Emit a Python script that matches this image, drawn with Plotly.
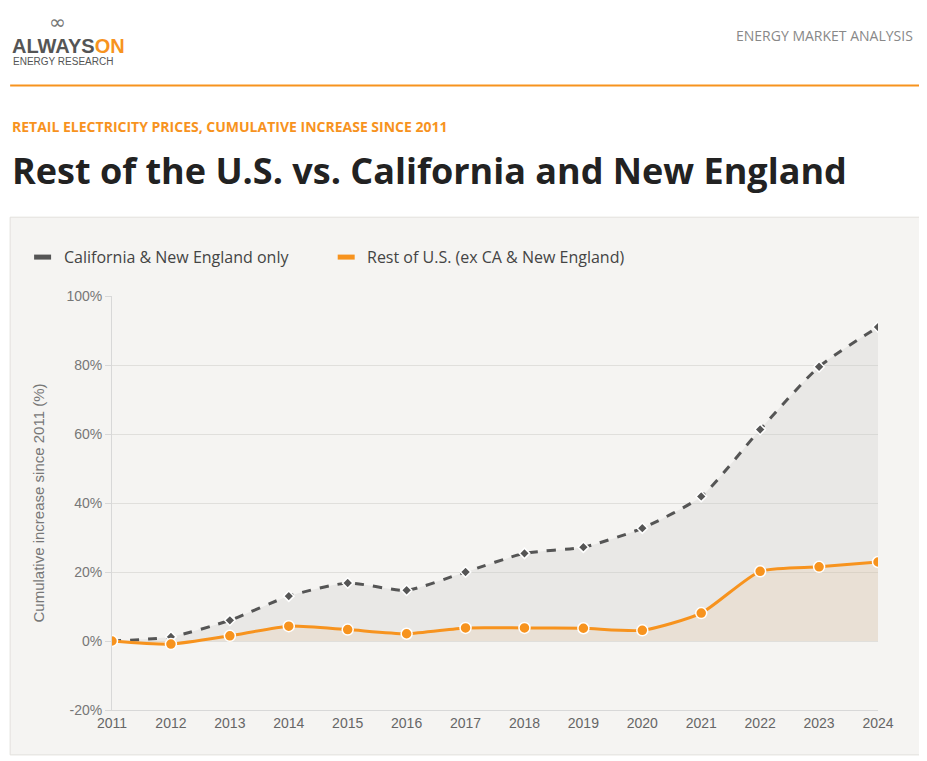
import plotly.graph_objects as go

years = list(range(2011, 2025))
ca_ne = [0, 1.2, 6.0, 13.0, 16.8, 14.7, 20.0, 25.4, 27.2, 32.7, 41.9, 61.3, 79.5, 91.0]
rest_us = [0, -0.9, 1.5, 4.3, 3.3, 2.1, 3.8, 3.8, 3.7, 3.1, 8.1, 20.2, 21.5, 22.9]
y_ticks = [-20, 0, 20, 40, 60, 80, 100]
series_names = ["California & New England only", "Rest of U.S. (ex CA & New England)"]

ORANGE = "#f7931e"
DARK = "#555555"
FONT = "Open Sans, Lato, sans-serif"
AXFONT = "Liberation Sans, Arial, sans-serif"


def px2paper(px_x, px_y):
    # reference pixel -> paper coords (plot area spans x 111..878, y 295..710)
    return (px_x - 111) / 767, (710 - px_y) / 415


fig = go.Figure()
fig.add_trace(go.Scatter(
    x=years, y=ca_ne, name=series_names[0],
    mode="lines+markers", line=dict(color=DARK, width=3, dash="dash", shape="spline", smoothing=0.6),
    marker=dict(symbol="diamond", size=8, color=DARK, line=dict(color="white", width=1.5)),
    fill="tozeroy", fillcolor="rgba(200,200,200,0.28)"))
fig.add_trace(go.Scatter(
    x=years, y=rest_us, name=series_names[1],
    mode="lines+markers", line=dict(color=ORANGE, width=3, shape="spline", smoothing=0.6),
    marker=dict(symbol="circle", size=11, color=ORANGE, line=dict(color="white", width=1.5)),
    fill="tozeroy", fillcolor="rgba(240,170,90,0.12)"))

cx0, cy1 = px2paper(9, 216)
cx1, cy0 = px2paper(924, 755)
lx0, ly = px2paper(9, 84)
lx1, _ = px2paper(924, 84)
shapes = [
    dict(type="rect", xref="paper", yref="paper", x0=cx0, x1=cx1, y0=cy0, y1=cy1,
         line=dict(color="#e2e0dc", width=1), fillcolor="#f5f4f2", layer="below"),
    dict(type="line", xref="paper", yref="paper", x0=lx0, x1=lx1, y0=ly, y1=ly,
         line=dict(color=ORANGE, width=2)),
]
# custom legend swatches
for (sx0, sx1), col in zip([(33, 50), (337, 354)], [DARK, ORANGE]):
    a0, b = px2paper(sx0, 256)
    a1, _ = px2paper(sx1, 256)
    shapes.append(dict(type="line", xref="paper", yref="paper", x0=a0, x1=a1, y0=b, y1=b,
                       line=dict(color=col, width=5)))

annotations = [
    dict(text="<b>ALWAYS<span style='color:#f7931e'>ON</span></b>", x=9, y=44,
         font=dict(size=20, color="#555555", family=AXFONT)),
    dict(text="ENERGY RESEARCH", x=10, y=60, font=dict(size=10, color="#555555", family=AXFONT)),
    dict(text="∞", x=46, y=20, font=dict(size=20, color="#777777", family="DejaVu Sans")),
    dict(text="ENERGY MARKET ANALYSIS", x=915, y=34, xanchor="right",
         font=dict(size=14, color="#888888", family=FONT)),
    dict(text="<b>RETAIL ELECTRICITY PRICES, CUMULATIVE INCREASE SINCE 2011</b>", x=9, y=125,
         font=dict(size=14, color=ORANGE, family=FONT)),
    dict(text="<b>Rest of the U.S. vs. California and New England</b>", x=9, y=169,
         font=dict(size=36, color="#222222", family=FONT)),
    dict(text=series_names[0], x=61, y=256, font=dict(size=16, color="#444444", family=FONT)),
    dict(text=series_names[1], x=364, y=256, font=dict(size=16, color="#444444", family=FONT)),
]
for a in annotations:
    ax, ay = px2paper(a.pop("x"), a.pop("y"))
    a.setdefault("xanchor", "left")
    a.update(xref="paper", yref="paper", showarrow=False, yanchor="middle", x=ax, y=ay)

fig.update_layout(
    width=919, height=753,
    margin=dict(l=104, r=49, t=288, b=51, autoexpand=False),
    paper_bgcolor="white", plot_bgcolor="#f5f4f2",
    font=dict(family=AXFONT, color="#666666"),
    shapes=shapes, annotations=annotations,
    showlegend=False,
    xaxis=dict(range=[2011, 2024], tickvals=years, showgrid=False, zeroline=False,
               showline=True, linecolor="#d8d8d8", tickfont=dict(size=14, color="#666666"),
               ticks="", fixedrange=True),
    yaxis=dict(range=[-20, 100], tickvals=y_ticks, ticktext=[f"{v}%" for v in y_ticks],
               gridcolor="#e0dfdc", zeroline=False, showline=True, linecolor="#d8d8d8",
               tickfont=dict(size=14, color="#777777"), ticks="outside", ticklen=6,
               tickcolor="#d8d8d8",
               title=dict(text="Cumulative increase since 2011 (%)", font=dict(size=15, color="#777777"),
                          standoff=18)),
)
fig.write_html("out.html")
